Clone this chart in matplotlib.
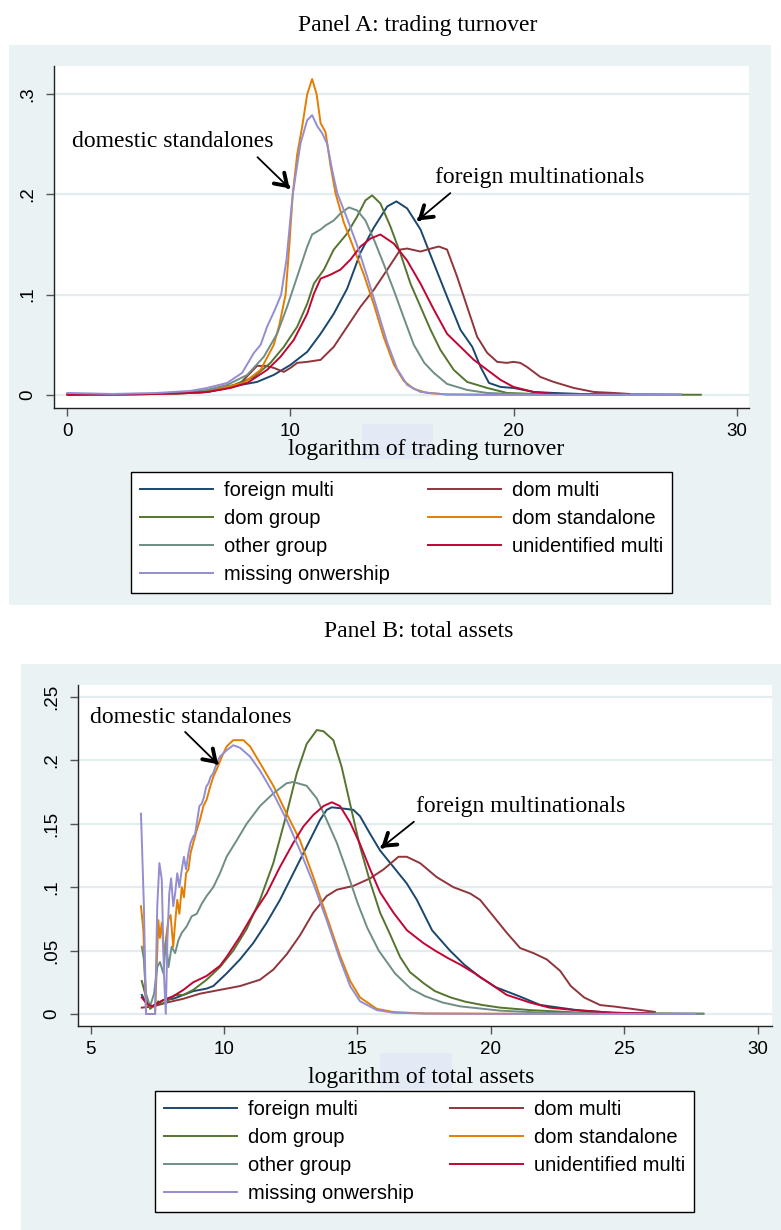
import matplotlib
matplotlib.use("Agg")
import matplotlib.pyplot as plt
from matplotlib.patches import Rectangle

# ---------------------------------------------------------------- data
series_names = ["foreign multi", "dom multi", "dom group", "dom standalone",
                "other group", "unidentified multi", "missing onwership"]
series_colors = ["#1a476f", "#90353b", "#55752f", "#e37e00",
                 "#6e8e84", "#c10534", "#938dd2"]

# Panel A: kernel densities of log trading turnover
a_foreign_x = [0.0, 2, 4, 5.5, 6.26, 7.16, 7.76, 8.5, 9.25, 10.0, 10.75, 11.35, 11.94, 12.54, 13.14,
               13.74, 14.34, 14.75, 15.23, 15.83, 16.43, 17.02, 17.62, 18.15, 18.52, 18.9, 19.42,
               20.0, 20.9, 21.8, 23.0, 25.0, 27.5]
a_foreign_y = [0.001, 0.0005, 0.001, 0.002, 0.003, 0.007, 0.010, 0.013, 0.020, 0.030, 0.043, 0.061,
               0.081, 0.106, 0.142, 0.167, 0.188, 0.193, 0.186, 0.165, 0.131, 0.098, 0.065, 0.048,
               0.028, 0.012, 0.008, 0.007, 0.003, 0.002, 0.001, 0.0005, 0.0003]

a_dommulti_x = [0.0, 2, 4, 5.5, 6.26, 7.0, 7.76, 8.2, 8.5, 8.9, 9.25, 9.7, 10.0, 10.3, 10.75, 11.35,
                11.94, 12.54, 13.14, 13.74, 14.34, 14.93, 15.23, 15.83, 16.3, 16.65, 17.02, 17.47,
                17.92, 18.37, 18.82, 19.27, 19.7, 20.0, 20.3, 20.6, 21.2, 21.8, 22.7, 23.6, 24.5, 25.2]
a_dommulti_y = [0.001, 0.0005, 0.001, 0.002, 0.003, 0.006, 0.012, 0.022, 0.029, 0.029, 0.027, 0.023,
                0.027, 0.032, 0.033, 0.035, 0.048, 0.068, 0.088, 0.105, 0.125, 0.145, 0.146, 0.143,
                0.146, 0.148, 0.145, 0.118, 0.088, 0.058, 0.042, 0.033, 0.032, 0.033, 0.032, 0.028,
                0.018, 0.013, 0.007, 0.003, 0.002, 0.001]

a_domgroup_x = [0.0, 2, 4, 5.5, 6.26, 7.46, 8.36, 9.1, 9.7, 10.3, 10.75, 11.05, 11.5, 11.94, 12.54,
                12.99, 13.36, 13.66, 14.03, 14.48, 14.93, 15.38, 15.83, 16.28, 16.72, 17.32, 17.92,
                18.82, 19.71, 20.9, 23.0, 25.5, 28.4]
a_domgroup_y = [0.001, 0.0005, 0.001, 0.002, 0.003, 0.010, 0.018, 0.032, 0.048, 0.068, 0.091, 0.111,
                0.125, 0.145, 0.161, 0.178, 0.194, 0.199, 0.191, 0.168, 0.141, 0.111, 0.088, 0.065,
                0.045, 0.025, 0.013, 0.007, 0.002, 0.001, 0.0005, 0.0003, 0.0002]

a_standalone_x = [0.0, 2, 4, 5.5, 6.56, 7.9, 8.66, 9.25, 9.5, 9.78, 9.95, 10.1, 10.3, 10.52, 10.75,
                  10.97, 11.17, 11.35, 11.57, 11.8, 12.02, 12.39, 12.84, 13.29, 13.74, 14.19, 14.64,
                  15.08, 15.53, 16.13, 17.0, 19.0, 22.0, 25.5]
a_standalone_y = [0.0, 0.0005, 0.001, 0.002, 0.005, 0.012, 0.025, 0.050, 0.070, 0.100, 0.150, 0.200,
                  0.240, 0.267, 0.300, 0.315, 0.300, 0.271, 0.262, 0.228, 0.201, 0.172, 0.146, 0.120,
                  0.090, 0.057, 0.030, 0.014, 0.006, 0.002, 0.0005, 0.0002, 0.0001, 0.0]

a_other_x = [0.0, 2, 4, 5.5, 6.26, 7.16, 8.06, 8.8, 9.4, 9.85, 10.3, 10.75, 10.97, 11.35, 11.57,
             11.94, 12.24, 12.62, 12.99, 13.36, 13.74, 14.19, 14.64, 15.08, 15.53, 16.0, 16.43,
             17.02, 17.92, 18.82, 20.0, 22.0, 25.0, 27.5]
a_other_y = [0.001, 0.0005, 0.001, 0.003, 0.005, 0.010, 0.020, 0.038, 0.061, 0.088, 0.118, 0.148,
             0.160, 0.165, 0.169, 0.174, 0.181, 0.187, 0.184, 0.174, 0.155, 0.130, 0.104, 0.077,
             0.050, 0.032, 0.022, 0.011, 0.005, 0.002, 0.001, 0.0005, 0.0002, 0.0001]

a_unident_x = [0.0, 2, 4, 5.5, 6.26, 7.31, 8.06, 8.95, 9.55, 10.15, 10.75, 11.05, 11.35, 11.8,
               12.24, 12.69, 13.14, 13.59, 14.03, 14.63, 15.23, 15.83, 16.43, 17.02, 17.62, 18.22,
               18.82, 19.42, 20.0, 20.9, 21.8, 23.0, 24.8]
a_unident_y = [0.0, 0.0005, 0.001, 0.002, 0.003, 0.007, 0.012, 0.025, 0.038, 0.055, 0.081, 0.101,
               0.116, 0.120, 0.125, 0.135, 0.148, 0.156, 0.160, 0.151, 0.134, 0.111, 0.085, 0.061,
               0.048, 0.035, 0.025, 0.015, 0.008, 0.003, 0.001, 0.0005, 0.0002]

a_missing_x = [0.0, 2, 4, 5.5, 6.26, 7.16, 7.83, 8.36, 8.66, 8.95, 9.3, 9.58, 9.82, 10.1, 10.45,
               10.75, 10.97, 11.2, 11.42, 11.65, 11.87, 12.1, 12.54, 12.99, 13.44, 13.89, 14.34,
               14.78, 15.23, 15.83, 17.0, 19.0, 22.0, 25.0, 27.5]
a_missing_y = [0.002, 0.001, 0.002, 0.004, 0.007, 0.012, 0.022, 0.042, 0.050, 0.068, 0.085, 0.100,
               0.135, 0.200, 0.251, 0.274, 0.279, 0.268, 0.261, 0.250, 0.224, 0.201, 0.176, 0.149,
               0.118, 0.085, 0.052, 0.026, 0.010, 0.003, 0.0005, 0.0002, 0.0001, 0.0001, 0.0]

# Panel B: kernel densities of log total assets
b_foreign_x = [6.92, 7.11, 7.3, 7.48, 7.73, 8.1, 8.48, 8.85, 9.35, 9.6, 10.1, 10.6, 11.1, 11.6,
               12.1, 12.6, 13.1, 13.6, 13.85, 14.04, 14.48, 14.85, 15.1, 15.48, 15.85, 16.35, 16.85,
               17.23, 17.8, 18.47, 19.0, 19.6, 20.2, 21.1, 21.85, 23.17, 24.5, 26.0]
b_foreign_y = [0.015, 0.008, 0.006, 0.008, 0.011, 0.012, 0.015, 0.018, 0.020, 0.022, 0.032, 0.043,
               0.056, 0.072, 0.090, 0.111, 0.132, 0.153, 0.161, 0.163, 0.162, 0.161, 0.156, 0.142,
               0.129, 0.116, 0.103, 0.090, 0.066, 0.050, 0.039, 0.029, 0.021, 0.0137, 0.0071,
               0.0032, 0.001, 0.0003]

b_dommulti_x = [6.92, 7.36, 7.86, 8.48, 9.1, 9.85, 10.6, 11.35, 11.85, 12.35, 12.85, 13.35, 13.85,
                14.23, 14.85, 15.48, 15.98, 16.54, 16.85, 17.35, 17.97, 18.6, 19.23, 19.6, 20.1,
                20.6, 21.1, 21.6, 22.1, 22.6, 23.0, 23.5, 24.1, 24.65, 25.4, 26.15]
b_dommulti_y = [0.005, 0.006, 0.009, 0.012, 0.016, 0.019, 0.022, 0.027, 0.035, 0.047, 0.062, 0.080,
                0.093, 0.098, 0.101, 0.107, 0.114, 0.124, 0.124, 0.119, 0.108, 0.100, 0.095, 0.090,
                0.077, 0.064, 0.052, 0.048, 0.043, 0.034, 0.022, 0.013, 0.007, 0.0058, 0.0037,
                0.0016]

b_domgroup_x = [6.92, 7.11, 7.23, 7.42, 7.54, 7.67, 7.86, 8.17, 8.48, 8.85, 9.35, 9.85, 10.35,
                10.85, 11.35, 11.85, 12.35, 12.73, 13.1, 13.48, 13.73, 14.1, 14.41, 14.79, 15.1,
                15.48, 15.85, 16.2, 16.6, 16.97, 17.5, 17.91, 18.5, 19.04, 19.7, 20.35, 21.5,
                23.35, 25.22, 27.97]
b_domgroup_y = [0.026, 0.011, 0.004, 0.007, 0.010, 0.008, 0.010, 0.015, 0.015, 0.019, 0.027, 0.037,
                0.050, 0.067, 0.090, 0.119, 0.158, 0.190, 0.213, 0.224, 0.223, 0.216, 0.195, 0.160,
                0.132, 0.104, 0.080, 0.064, 0.045, 0.033, 0.024, 0.018, 0.013, 0.0097, 0.007, 0.005,
                0.003, 0.001, 0.0005, 0.0002]

b_standalone_x = [6.89, 6.98, 7.08, 7.25, 7.42, 7.54, 7.6, 7.67, 7.75, 7.83, 7.92, 8.0, 8.1, 8.17,
                  8.25, 8.33, 8.42, 8.5, 8.58, 8.67, 8.75, 8.85, 8.98, 9.1, 9.23, 9.35, 9.48, 9.6,
                  9.73, 9.9, 10.1, 10.35, 10.55, 10.73, 10.98, 11.35, 11.85, 12.35, 12.85, 13.35,
                  13.85, 14.35, 14.73, 15.1, 15.73, 16.35, 17.5, 20.0, 24.0]
b_standalone_y = [0.085, 0.066, 0.0, 0.0, 0.0, 0.074, 0.060, 0.072, 0.045, 0.060, 0.075, 0.078,
                  0.053, 0.072, 0.090, 0.079, 0.100, 0.092, 0.111, 0.114, 0.127, 0.135, 0.145,
                  0.153, 0.164, 0.169, 0.179, 0.187, 0.193, 0.202, 0.211, 0.216, 0.216, 0.216,
                  0.211, 0.198, 0.180, 0.158, 0.137, 0.108, 0.077, 0.046, 0.026, 0.013, 0.004,
                  0.0015, 0.0004, 0.0002, 0.0001]

b_other_x = [6.92, 7.0, 7.08, 7.23, 7.38, 7.5, 7.6, 7.73, 7.83, 7.92, 8.04, 8.17, 8.29, 8.42, 8.6,
             8.79, 8.98, 9.17, 9.35, 9.6, 9.85, 10.1, 10.48, 10.85, 11.35, 11.85, 12.35, 12.6, 13.1,
             13.48, 13.85, 14.23, 14.6, 15.0, 15.37, 15.8, 16.41, 17.0, 17.54, 18.2, 18.85, 20.35,
             22.0, 25.0, 27.97]
b_other_y = [0.053, 0.043, 0.016, 0.006, 0.016, 0.037, 0.041, 0.032, 0.058, 0.037, 0.053, 0.048,
             0.058, 0.064, 0.069, 0.077, 0.079, 0.087, 0.093, 0.100, 0.111, 0.124, 0.137, 0.150,
             0.164, 0.174, 0.182, 0.183, 0.180, 0.170, 0.153, 0.135, 0.113, 0.088, 0.068, 0.050,
             0.032, 0.020, 0.014, 0.009, 0.006, 0.0026, 0.001, 0.0004, 0.0002]

b_unident_x = [6.92, 7.11, 7.3, 7.48, 7.73, 8.1, 8.48, 8.85, 9.35, 9.85, 10.1, 10.6, 11.1, 11.6,
               12.1, 12.6, 12.98, 13.35, 13.73, 14.04, 14.35, 14.73, 15.1, 15.48, 15.85, 16.35,
               16.86, 17.47, 17.91, 18.4, 18.85, 19.4, 19.97, 20.6, 21.47, 22.2, 23.36, 24.6, 26.1]
b_unident_y = [0.013, 0.008, 0.006, 0.008, 0.011, 0.014, 0.019, 0.025, 0.030, 0.038, 0.045, 0.061,
               0.079, 0.095, 0.116, 0.135, 0.148, 0.157, 0.164, 0.167, 0.164, 0.151, 0.134, 0.114,
               0.096, 0.080, 0.066, 0.056, 0.050, 0.044, 0.039, 0.032, 0.024, 0.015, 0.009, 0.005,
               0.0026, 0.001, 0.0003]

b_missing_x = [6.89, 7.0, 7.08, 7.25, 7.42, 7.5, 7.58, 7.67, 7.75, 7.82, 7.88, 7.95, 8.02, 8.1, 8.17,
               8.25, 8.33, 8.42, 8.5, 8.58, 8.67, 8.75, 8.85, 8.92, 9.0, 9.08, 9.17, 9.25, 9.33,
               9.42, 9.5, 9.6, 9.73, 9.85, 10.1, 10.35, 10.6, 10.98, 11.35, 11.85, 12.35, 12.85,
               13.35, 13.85, 14.35, 14.73, 15.1, 15.73, 16.35, 17.5, 20.0, 24.0, 27.66]
b_missing_y = [0.158, 0.085, 0.0, 0.0, 0.0, 0.085, 0.119, 0.106, 0.032, 0.0, 0.058, 0.095, 0.107,
               0.085, 0.095, 0.111, 0.100, 0.114, 0.124, 0.114, 0.127, 0.135, 0.140, 0.142, 0.153,
               0.164, 0.166, 0.171, 0.179, 0.182, 0.187, 0.190, 0.198, 0.203, 0.208, 0.212, 0.210,
               0.203, 0.192, 0.174, 0.153, 0.129, 0.103, 0.074, 0.043, 0.022, 0.010, 0.003, 0.001,
               0.0003, 0.0001, 0.0001, 0.0]

panel_a = [(a_foreign_x, a_foreign_y), (a_dommulti_x, a_dommulti_y), (a_domgroup_x, a_domgroup_y),
           (a_standalone_x, a_standalone_y), (a_other_x, a_other_y), (a_unident_x, a_unident_y),
           (a_missing_x, a_missing_y)]
panel_b = [(b_foreign_x, b_foreign_y), (b_dommulti_x, b_dommulti_y), (b_domgroup_x, b_domgroup_y),
           (b_standalone_x, b_standalone_y), (b_other_x, b_other_y), (b_unident_x, b_unident_y),
           (b_missing_x, b_missing_y)]

a_xticks = [0, 10, 20, 30]
a_yticks = [0, 0.1, 0.2, 0.3]
a_yticklabels = ["0", ".1", ".2", ".3"]
b_xticks = [5, 10, 15, 20, 25, 30]
b_yticks = [0, 0.05, 0.1, 0.15, 0.2, 0.25]
b_yticklabels = ["0", ".05", ".1", ".15", ".2", ".25"]

# ---------------------------------------------------------------- style
W, H = 781, 1230
BG = "#eaf2f3"
GRID = "#e3edf0"
SERIF = ["Liberation Serif", "DejaVu Serif"]
SANS = ["Liberation Sans", "DejaVu Sans"]

fig = plt.figure(figsize=(W / 100, H / 100), dpi=100)
fig.patch.set_facecolor("white")


def frect(x0, y0, x1, y1):
    """pixel box (top-left origin) -> figure-fraction [left, bottom, width, height]"""
    return [x0 / W, 1 - y1 / H, (x1 - x0) / W, (y1 - y0) / H]


def panel(data, outer, plot_box, xlim, ylim, xticks, yticks, yticklabels,
          title, title_xy, xlabel, xlabel_xy, shade, legend_box, notes):
    l, b, w, h = frect(*outer)
    fig.add_artist(Rectangle((l, b), w, h, transform=fig.transFigure,
                             facecolor=BG, edgecolor="none", zorder=0))
    l, b, w, h = frect(*shade)
    fig.add_artist(Rectangle((l, b), w, h, transform=fig.transFigure,
                             facecolor="#e3e9f5", edgecolor="none", zorder=1))

    ax = fig.add_axes(frect(*plot_box))
    ax.set_facecolor("white")
    ax.set_xlim(*xlim)
    ax.set_ylim(*ylim)
    for s in ("top", "right"):
        ax.spines[s].set_visible(False)
    for s in ("left", "bottom"):
        ax.spines[s].set_color("#222222")
        ax.spines[s].set_linewidth(1.0)
    ax.set_xticks(xticks)
    ax.set_xticklabels([str(t) for t in xticks], family=SANS, fontsize=13.5)
    ax.set_yticks(yticks)
    ax.set_yticklabels(yticklabels, family=SANS, fontsize=13.5, rotation=90, va="center")
    ax.tick_params(axis="both", direction="out", length=5.5, width=1.0, color="#555555")
    ax.tick_params(axis="x", pad=5)
    ax.tick_params(axis="y", pad=7)
    ax.yaxis.grid(True, color=GRID, lw=1.6)
    ax.set_axisbelow(True)

    handles = []
    for (xs, ys), name, c in zip(data, series_names, series_colors):
        ln, = ax.plot(xs, ys, color=c, lw=1.4, label=name, solid_joinstyle="round")
        handles.append(ln)

    for text, txy, tail, head in notes:
        ax.text(txy[0], txy[1], text, family=SERIF, fontsize=17, ha="left", va="center")
        ax.annotate("", xy=head, xytext=tail,
                    arrowprops=dict(arrowstyle="-", color="black", lw=1.3))
        ax.annotate("", xy=head,
                    xytext=(head[0] + 0.04 * (tail[0] - head[0]), head[1] + 0.04 * (tail[1] - head[1])),
                    arrowprops=dict(arrowstyle="->,head_length=0.45,head_width=0.3", color="black",
                                    lw=2.8, mutation_scale=18, shrinkA=0, shrinkB=0))

    fig.text(title_xy[0] / W, 1 - title_xy[1] / H, title, family=SERIF, fontsize=17,
             ha="center", va="center")
    fig.text(xlabel_xy[0] / W, 1 - xlabel_xy[1] / H, xlabel, family=SERIF, fontsize=17,
             ha="center", va="center", zorder=3)

    order = [0, 2, 4, 6, 1, 3, 5]
    l, b, w, h = frect(*legend_box)
    leg = fig.legend([handles[i] for i in order], [series_names[i] for i in order],
                     loc="lower left", bbox_to_anchor=(l, b, w, h), mode="expand", ncol=2,
                     prop={"family": SANS, "size": 14.5}, frameon=True, fancybox=False,
                     facecolor="white", framealpha=1.0,
                     edgecolor="black", borderaxespad=0, borderpad=0.45, handlelength=3.6,
                     handletextpad=0.55, labelspacing=0.45, columnspacing=1.0)
    leg.get_frame().set_linewidth(1.0)
    return ax


panel(panel_a,
      outer=(9, 45, 771, 605), plot_box=(54, 66, 749, 408),
      xlim=(-0.605, 30.56), ylim=(-0.013, 0.328),
      xticks=a_xticks, yticks=a_yticks, yticklabels=a_yticklabels,
      title="Panel A: trading turnover", title_xy=(418, 25),
      xlabel="logarithm of trading turnover", xlabel_xy=(426, 449),
      shade=(362, 424, 433, 459), legend_box=(131, 472, 672, 593),
      notes=[("domestic standalones", (0.22, 0.253), (8.43, 0.239), (9.96, 0.206)),
             ("foreign multinationals", (16.46, 0.217), (17.26, 0.203), (15.70, 0.174))])

panel(panel_b,
      outer=(21, 664, 781, 1230), plot_box=(78, 685, 772, 1026),
      xlim=(4.53, 30.54), ylim=(-0.0095, 0.2595),
      xticks=b_xticks, yticks=b_yticks, yticklabels=b_yticklabels,
      title="Panel B: total assets", title_xy=(419, 631),
      xlabel="logarithm of total assets", xlabel_xy=(421, 1077),
      shade=(380, 1053, 452, 1089), legend_box=(155, 1091, 694, 1212),
      notes=[("domestic standalones", (4.98, 0.234), (8.47, 0.224), (9.78, 0.197)),
             ("foreign multinationals", (17.2, 0.164), (17.2, 0.153), (15.89, 0.131))])

fig.savefig("out.png", dpi=100, facecolor="white")
